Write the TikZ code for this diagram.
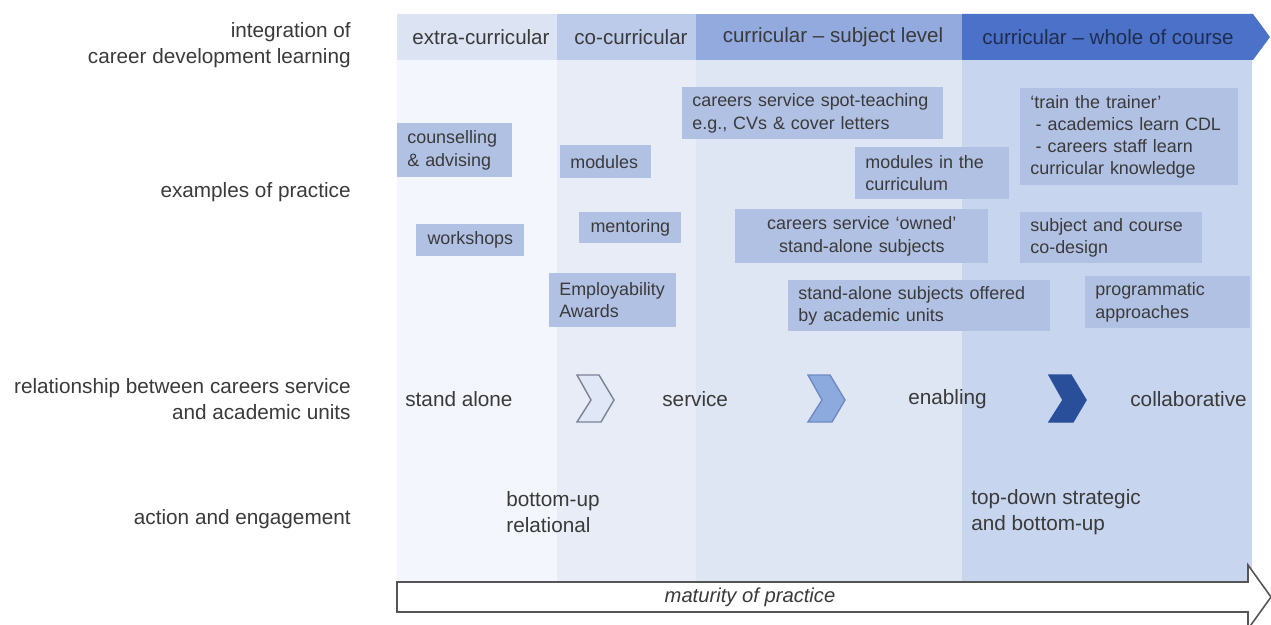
\documentclass[tikz,border=0pt]{standalone}
\usepackage{fontspec}
\setmainfont{Liberation Sans}
\usepackage{tikz}
\usepackage{xcolor}
\usetikzlibrary{positioning, calc}
\definecolor{colA}{HTML}{F3F6FC}
\definecolor{colB}{HTML}{E7ECF7}
\definecolor{colC}{HTML}{DEE5F3}
\definecolor{colD}{HTML}{C8D5EE}
\definecolor{headA}{HTML}{DCE3F3}
\definecolor{headB}{HTML}{BCCBEA}
\definecolor{headC}{HTML}{93AADE}
\definecolor{headD}{HTML}{4B72C8}
\definecolor{boxblue}{HTML}{B1C1E3}
\definecolor{txtgray}{HTML}{3A3A3A}
\definecolor{headdark}{HTML}{1F2D4F}
\definecolor{chevA}{HTML}{E0E7F7}
\definecolor{chevAline}{HTML}{7A8295}
\definecolor{chevB}{HTML}{8DAADF}
\definecolor{chevBline}{HTML}{6F8AC0}
\definecolor{chevC}{HTML}{2A4F9A}
\definecolor{arrline}{HTML}{555555}
\tikzset{%
  rowlabel/.style={anchor=east, align=right, inner sep=0pt, text=txtgray,
    font=\fontsize{11.8}{14.5}\selectfont},
  headtext/.style={inner sep=0pt, text=txtgray, font=\fontsize{11.7}{14}\selectfont},
  reltext/.style={anchor=west, align=left, inner sep=0pt, text=txtgray,
    font=\fontsize{11.8}{14.5}\selectfont},
  exbox/.style={
    anchor=north west,
    fill=boxblue,
    text=txtgray,
    align=left,
    inner xsep=0.2cm,
    inner ysep=0pt,
    font=\fontsize{10.2}{12.6}\selectfont
  },
  chev/.style={line width=0.8pt, line join=miter},
  matarrow/.style={draw=arrline, line width=0.9pt, fill=white, line join=miter}
}

\begin{document}
\begin{tikzpicture}[x=0.02cm, y=-0.02cm]
  \useasboundingbox (0,0) rectangle (1271,625);
  % columns
  \fill[colA] (397,60) rectangle (557,582);
  \fill[colB] (557,60) rectangle (696,582);
  \fill[colC] (696,60) rectangle (962,582);
  \fill[colD] (962,60) rectangle (1252,582);
  % header band
  \fill[headA] (397,14) rectangle (557,60);
  \fill[headB] (557,14) rectangle (696,60);
  \fill[headC] (696,14) rectangle (962,60);
  \fill[headD] (962,14) -- (1253,14) -- (1270,37) -- (1253,60) -- (962,60) -- cycle;
  \node[headtext] (extra) at (481,37) {extra-curricular};
  \node[headtext] (cocur) at (631,37) {co-curricular};
  \node[headtext] (subj) at (833,37) {curricular -- subject level};
  \node[headtext, text=headdark] (whole) at (1108,37) {curricular -- whole of course};

  % row labels
  \node[rowlabel] (integ) at (351,45) {integration of\\career development learning};
  \node[rowlabel] (exmpl) at (351,192) {examples of practice};
  \node[rowlabel] (relat) at (351,399) {relationship between careers service\\and academic units};
  \node[rowlabel] (actn) at (351,519) {action and engagement};

  % examples of practice
  \node[exbox, text width=1.90cm, minimum height=1.08cm] (couns) at (397,123)
    {counselling\\\& advising};
  \node[exbox, text width=1.42cm, minimum height=0.66cm] (modl) at (560,145) {modules};
  \node[exbox, align=center, text width=1.76cm, minimum height=0.64cm] (wshop) at (416,224)
    {workshops};
  \node[exbox, align=center, text width=1.64cm, minimum height=0.62cm] (mentr) at (579,212)
    {mentoring};
  \node[exbox, text width=2.14cm, minimum height=1.08cm] (award) at (549,273)
    {Employability\\Awards};
  \node[exbox, text width=4.82cm, minimum height=1.04cm] (spot) at (682,87)
    {careers service spot-teaching\\e.g., CVs \& cover letters};
  \node[exbox, text width=2.68cm, minimum height=1.04cm] (mcurr) at (855,147)
    {modules in the\\curriculum};
  \node[exbox, align=center, text width=4.66cm, minimum height=1.08cm] (owned) at (735,209)
    {careers service ‘owned’\\stand-alone subjects};
  \node[exbox, text width=4.84cm, minimum height=1.02cm] (offrd) at (788,280)
    {stand-alone subjects offered\\by academic units};
  \node[exbox, text width=3.96cm, minimum height=1.94cm] (train) at (1020,88)
    {‘train the trainer’\\\hspace*{0.3em}- academics learn CDL\\\hspace*{0.3em}- careers staff learn\\curricular knowledge};
  \node[exbox, text width=3.24cm, minimum height=1.02cm] (codes) at (1020,212)
    {subject and course\\co-design};
  \node[exbox, text width=2.90cm, minimum height=1.04cm] (progr) at (1085,276)
    {programmatic\\approaches};

  % relationship
  \node[reltext] (alone) at (405,399) {stand alone};
  \node[reltext] (servc) at (662,399) {service};
  \node[reltext] (enabl) at (908,399) {enabling};
  \node[reltext] (colab) at (1130,399) {collaborative};
  \foreach \cx/\cf/\cd in {577/chevA/chevAline, 808/chevB/chevBline, 1049/chevC/chevC}
    \filldraw[chev, fill=\cf, draw=\cd] (\cx,375) -- ++(22,0) -- ++(15,25)
      -- ++(-13,22) -- ++(-24,0) -- ++(14,-22) -- cycle;

  % action and engagement
  \node[reltext] (botup) at (506,512) {bottom-up\\relational};
  \node[reltext] (topdn) at (971,512) {top-down strategic\\and bottom-up};

  % maturity arrow
  \draw[matarrow] (397,582) -- (1248,582) -- (1248,565) -- (1271,597)
    -- (1248,629) -- (1248,612) -- (397,612) -- cycle;
  \node[text=txtgray, inner sep=0pt, font=\fontsize{11.5}{14}\selectfont\itshape] (matur)
    at (750,597) {maturity of practice};
\end{tikzpicture}
\end{document}
